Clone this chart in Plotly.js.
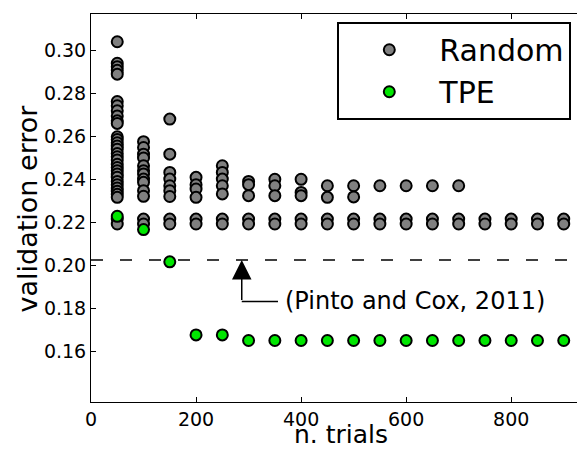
<!DOCTYPE html>
<html>
<head>
<meta charset="utf-8">
<script src="https://cdn.plot.ly/plotly-3.0.1.min.js"></script>
<style>
html, body { margin: 0; padding: 0; overflow: hidden; background: #fff; }
#chart { width: 600px; height: 450px; }
</style>
</head>
<body>
<div id="chart"></div>
<script>
// ---- data ----
const randomTrials = [50, 100, 150, 200, 250, 300, 350, 400, 450, 500, 550, 600, 650, 700, 750, 800, 850, 900];
const randomErrors = [
  [0.304, 0.294, 0.2924, 0.2907, 0.2889, 0.2762, 0.2742, 0.2719, 0.2695, 0.2672, 0.266,
   0.2598, 0.2585, 0.257, 0.2555, 0.254, 0.252, 0.2505, 0.249, 0.247, 0.2455, 0.244,
   0.2425, 0.241, 0.239, 0.2375, 0.236, 0.2345, 0.233, 0.2316, 0.2215, 0.2192],
  [0.2575, 0.2548, 0.2517, 0.2499, 0.2463, 0.244, 0.2425, 0.2401, 0.2386, 0.2347, 0.2321, 0.2215, 0.2192],
  [0.268, 0.2517, 0.2432, 0.2401, 0.237, 0.2347, 0.232, 0.2215, 0.2192],
  [0.2409, 0.2375, 0.2355, 0.2316, 0.2215, 0.2192],
  [0.2463, 0.2432, 0.2401, 0.237, 0.2332, 0.2215, 0.2192],
  [0.239, 0.2375, 0.2324, 0.2215, 0.2192],
  [0.240, 0.237, 0.2324, 0.2215, 0.2192],
  [0.240, 0.2339, 0.2324, 0.2215, 0.2192],
  [0.237, 0.2316, 0.2215, 0.2192],
  [0.237, 0.2318, 0.2215, 0.2192],
  [0.237, 0.2215, 0.2192],
  [0.237, 0.2215, 0.2192],
  [0.237, 0.2215, 0.2192],
  [0.237, 0.2215, 0.2192],
  [0.2215, 0.2192],
  [0.2215, 0.2192],
  [0.2215, 0.2192],
  [0.2215, 0.2192]
];
const tpeTrials = [50, 100, 150, 200, 250, 300, 350, 400, 450, 500, 550, 600, 650, 700, 750, 800, 850, 900];
const tpeErrors = [0.2228, 0.2166, 0.2016, 0.1676, 0.1676, 0.165, 0.165, 0.165, 0.165, 0.165, 0.165, 0.165, 0.165, 0.165, 0.165, 0.165, 0.165, 0.165];
const referenceError = 0.2025;          // Pinto and Cox, 2011
const referenceLabel = '(Pinto and Cox, 2011)';
const arrowTrials = 287;
const arrowTailError = 0.1832;
const labelTrials = 365.7;
const xTicks = [0, 200, 400, 600, 800];
const yTicks = [0.16, 0.18, 0.20, 0.22, 0.24, 0.26, 0.28, 0.30];
const xTitle = 'n. trials';
const yTitle = 'validation error';

// ---- build ----
const rx = [], ry = [];
randomTrials.forEach((t, i) => randomErrors[i].forEach(v => { rx.push(t); ry.push(v); }));

const FONT = 'DejaVu Sans, sans-serif';
const traces = [
  {
    x: rx, y: ry, type: 'scatter', mode: 'markers', name: 'Random',
    marker: { size: 11, color: 'rgb(128,128,128)', line: { color: '#000', width: 2 } }
  },
  {
    x: tpeTrials, y: tpeErrors, type: 'scatter', mode: 'markers', name: 'TPE',
    marker: { size: 11, color: 'rgb(0,230,0)', line: { color: '#000', width: 2 } }
  }
];

const axisCommon = {
  showline: true, linecolor: '#000', linewidth: 1, mirror: 'allticks',
  ticks: 'inside', ticklen: 5, tickwidth: 1, tickcolor: '#000',
  showgrid: false, zeroline: false,
  tickfont: { family: FONT, size: 19, color: '#000' }
};

const layout = {
  width: 600, height: 450,
  margin: { l: 91, r: 10, t: 14, b: 48 },
  paper_bgcolor: '#fff', plot_bgcolor: '#fff',
  font: { family: FONT, color: '#000' },
  xaxis: Object.assign({}, axisCommon, {
    range: [0, 950], tickvals: xTicks, ticktext: xTicks.map(String)
  }),
  yaxis: Object.assign({}, axisCommon, {
    range: [0.1364, 0.3169], tickvals: yTicks, ticktext: yTicks.map(v => v.toFixed(2))
  }),
  showlegend: true,
  legend: {
    x: 0.4936, y: 0.98, xanchor: 'left', yanchor: 'top',
    bgcolor: '#fff', bordercolor: '#000', borderwidth: 2,
    font: { family: FONT, size: 30, color: '#000' },
    itemwidth: 90
  },
  shapes: [
    { type: 'line', xref: 'paper', x0: 0, x1: 1, yref: 'y', y0: referenceError, y1: referenceError,
      line: { color: '#000', width: 1.5, dash: '12px,17px' }, layer: 'below' },
    { type: 'line', xref: 'x', yref: 'y', x0: arrowTrials, x1: 356, y0: arrowTailError, y1: arrowTailError,
      line: { color: '#000', width: 1.5 } }
  ],
  annotations: [
    { x: arrowTrials, y: referenceError, ax: arrowTrials, ay: arrowTailError, xref: 'x', yref: 'y',
      axref: 'x', ayref: 'y', text: '', showarrow: true, arrowhead: 2, arrowsize: 2.6, arrowwidth: 1.5,
      arrowcolor: '#000' },
    { x: labelTrials, y: arrowTailError, xref: 'x', yref: 'y', xanchor: 'left', yanchor: 'middle',
      text: referenceLabel, showarrow: false, font: { family: FONT, size: 24, color: '#000' } },
    { x: 0.5, y: -0.1245, xref: 'paper', yref: 'paper', xanchor: 'center', yanchor: 'bottom',
      borderpad: 0, text: xTitle, showarrow: false, font: { family: FONT, size: 25, color: '#000' } },
    { x: -0.1273, y: 0.5, xref: 'paper', yref: 'paper', xanchor: 'center', yanchor: 'middle',
      textangle: -90, borderpad: 0, text: yTitle, showarrow: false,
      font: { family: FONT, size: 27, color: '#000' } }
  ]
};

Plotly.newPlot('chart', traces, layout, { displayModeBar: false, staticPlot: true });
</script>
</body>
</html>
